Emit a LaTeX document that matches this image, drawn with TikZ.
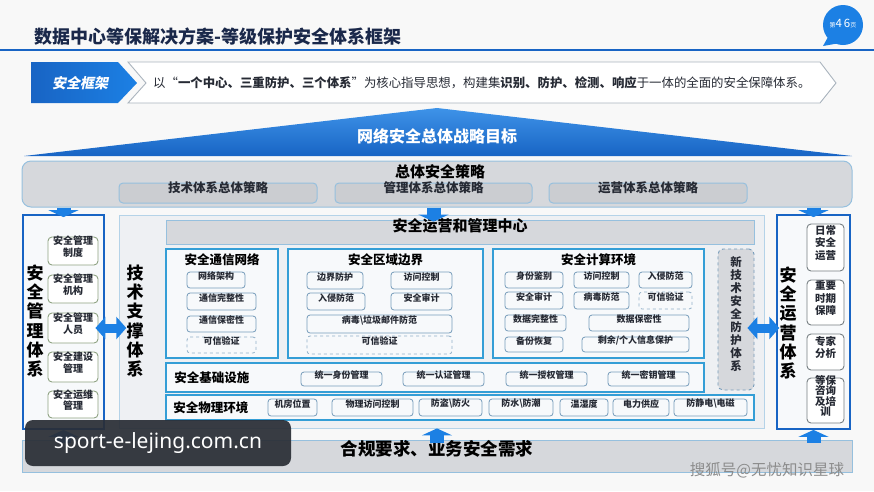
\documentclass[tikz,border=0pt]{standalone}
\usepackage{fontspec}
\setmainfont{Noto Sans CJK SC}
\newfontfamily\tagfont{Noto Sans CJK SC}[FakeSlant=0.2]
\newfontfamily\wmfont{Noto Sans}
\usetikzlibrary{arrows.meta,fit,positioning}

\definecolor{mainblue}{RGB}{28,128,228}
\definecolor{darkblue}{RGB}{24,100,196}
\definecolor{titlenavy}{RGB}{26,40,74}
\definecolor{subline}{RGB}{52,158,214}
\definecolor{itemline}{RGB}{118,156,186}
\definecolor{itemfill}{RGB}{247,249,251}
\definecolor{txtgray}{RGB}{38,42,52}
\definecolor{grayfill}{RGB}{214,216,220}
\definecolor{paleline}{RGB}{150,192,222}
\definecolor{techfill}{RGB}{238,240,243}
\definecolor{lboxline}{RGB}{142,162,130}
\definecolor{rboxline}{RGB}{118,126,130}
\definecolor{bannerline}{RGB}{170,180,190}
\definecolor{bgwhite}{RGB}{248,248,248}
\definecolor{wmgray}{RGB}{42,46,54}

\begin{document}
\begin{tikzpicture}[x=1pt, y=-1pt,
    item/.style={draw=itemline, fill=itemfill, rounded corners=3pt, line width=0.8pt,
        inner sep=0pt, text=txtgray, font=\fontsize{9}{10}\selectfont\bfseries},
    itemdash/.style={item, dashed, draw=itemline!80},
    subbox/.style={draw=subline, line width=1.6pt, fill=itemfill, inner sep=0pt},
    subtitle/.style={inner sep=0pt, text=black, font=\fontsize{12.5}{14}\selectfont\bfseries},
    graybar/.style={draw=paleline, fill=grayfill, line width=0.8pt, inner sep=0pt,
        text=black, font=\fontsize{15}{17}\selectfont\bfseries},
    stratbox/.style={draw=paleline, fill=grayfill!95!black, rounded corners=4pt, line width=1pt,
        inner sep=0pt, text=txtgray, font=\fontsize{12.5}{14}\selectfont\bfseries},
    colbox/.style={draw=darkblue, line width=1.8pt, fill=itemfill, inner sep=0pt},
    collabel/.style={inner sep=0pt, align=center, text=black,
        font=\fontsize{17}{19.2}\selectfont\bfseries},
    lbox/.style={draw=lboxline, fill=white, rounded corners=4pt, line width=0.9pt, inner sep=0pt,
        align=center, text=txtgray, font=\fontsize{10}{11.5}\selectfont\bfseries},
    rbox/.style={lbox, draw=rboxline, font=\fontsize{10.5}{12.5}\selectfont\bfseries},
    downarr/.style={draw=mainblue, line width=14pt, -{Triangle[width=30pt,length=7pt]}},
    dblarr/.style={draw=mainblue, line width=9pt,
        {Triangle[width=22pt,length=10pt]}-{Triangle[width=22pt,length=10pt]}}]

    % Page area and background
    \useasboundingbox (0,0) rectangle (874,491);
    \fill[bgwhite] (0,0) rectangle (874,491);

    % Header: title, rule and page badge
    \node[anchor=west, inner sep=0pt, text=titlenavy, font=\fontsize{18}{20}\selectfont\bfseries]
        (title) at (34,37) {数据中心等保解决方案-等级保护安全体系框架};
    \draw[darkblue, line width=2.4pt] (0,50) -- (874,50);
    \fill[mainblue] (843,25) circle (20);
    \fill[mainblue] (828,37) -- (823,46) -- (840,43) -- cycle;
    \node[text=white, inner sep=0pt] (page) at (843,24)
        {\fontsize{6}{6}\selectfont 第\fontsize{11.5}{12}\selectfont 4\,6\fontsize{6}{6}\selectfont 页};

    % Banner
    \shade[left color=darkblue, right color=mainblue] (31,62) -- (118,62) -- (137,83) -- (118,103) -- (31,103) -- cycle;
    \node[text=white, inner sep=0pt, font=\fontsize{14}{16}\selectfont\tagfont\bfseries] (tag) at (80,83) {安全框架};
    \draw[bannerline, line width=0.9pt, fill=white] (128,62) -- (820,62) -- (836,83) -- (820,103) -- (128,103) -- (146,83) -- cycle;
    \node[anchor=west, inner sep=0pt, text=txtgray, font=\fontsize{12.4}{14}\selectfont] (motto) at (153,83)
        {以“\textbf{一个中心、三重防护、三个体系}”为核心指导思想，构建集\textbf{识别、防护、检测、响应}于一体的全面的安全保障体系。};

    % Strategic goal triangle
    \shade[top color=mainblue!85, bottom color=darkblue] (437,108) -- (852,156) -- (24,156) -- cycle;
    \node[text=white, inner sep=0pt, font=\fontsize{16}{18}\selectfont\bfseries] (goal) at (437,136) {网络安全总体战略目标};

    % Overall strategy
    \node[draw=paleline, fill=grayfill, rounded corners=9pt, line width=1pt, inner sep=0pt,
        fit={(22,161) (852,207)}] (strat) {};
    \node[inner sep=0pt, font=\fontsize{15}{17}\selectfont\bfseries] (stratt) at (440,172) {总体安全策略};
    \foreach \nm/\xa/\xb/\txt in {jscl/119/317/技术体系总体策略, glcl/335/532/管理体系总体策略, yycl/549/747/运营体系总体策略}
        \node[stratbox, fit={(\xa,183) (\xb,203)}] (\nm) {\txt};

    % Technical support system
    \node[draw=paleline!70, fill=techfill, line width=0.8pt, inner sep=0pt, fit={(119,215) (764,428)}] (tech) {};
    \node[collabel] (techl) at (135,321) {技\\术\\支\\撑\\体\\系};
    \node[graybar, fit={(166,220) (754,244)}] (glzx) {安全运营和管理中心};

    % Three protection areas
    \node[subbox, fit={(166,249) (278,358)}] (txwl) {};
    \node[subbox, fit={(288,249) (483,358)}] (qybj) {};
    \node[subbox, fit={(493,249) (704,358)}] (jshj) {};
    \node[subtitle, below=5pt of txwl.north] (txwlt) {安全通信网络};
    \node[subtitle, below=5pt of qybj.north] (qybjt) {安全区域边界};
    \node[subtitle, below=5pt of jshj.north] (jshjt) {安全计算环境};

    \foreach \nm/\xa/\ya/\xb/\yb/\txt in {
        wljg/187/272/245/288/网络架构, txwz/187/293/256/310/通信完整性, txbm/187/316/256/332/通信保密性,
        bjfh/307/272/363/289/边界防护, fwkza/391/272/452/289/访问控制, rqffa/307/293/365/310/入侵防范,
        aqsja/391/293/452/310/安全审计, bdlj/307/315/452/333/病毒\textbackslash 垃圾邮件防范,
        sfjb/505/272/563/288/身份鉴别, fwkzb/574/272/629/288/访问控制, rqffb/639/272/692/288/入侵防范,
        aqsjb/505/292/563/309/安全审计, bdff/574/292/629/309/病毒防范,
        sjwz/505/315/566/331/数据完整性, sjbm/589/315/689/331/数据保密性,
        bfhf/505/337/563/352/备份恢复, syxx/582/337/689/352/{剩余/个人信息保护}}
        \node[item, fit={(\xa,\ya) (\xb,\yb)}] (\nm) {\txt};
    \foreach \nm/\xa/\ya/\xb/\yb in {kxa/187/337/256/353, kxb/307/336/452/354, kxc/639/292/692/309}
        \node[itemdash, fit={(\xa,\ya) (\xb,\yb)}] (\nm) {可信验证};

    % New technology protection
    \node[draw=itemline, dashed, fill=grayfill, rounded corners=5pt, line width=0.9pt, inner sep=0pt,
        align=center, text=txtgray, font=\fontsize{11.5}{13}\selectfont\bfseries,
        fit={(718,249) (754,390)}] (xjs) {新\\技\\术\\安\\全\\防\\护\\体\\系};

    % Infrastructure and physical environment
    \node[subbox, fit={(166,363) (704,392)}] (jcss) {};
    \node[subtitle, anchor=west, right=9pt of jcss.west] (jcsst) {安全基础设施};
    \foreach \nm/\xa/\xb/\txt in {tysf/301/382/统一身份管理, tyrz/403/484/统一认证管理,
        tysq/506/587/统一授权管理, tymy/608/689/统一密钥管理}
        \node[item, fit={(\xa,372) (\xb,386)}] (\nm) {\txt};
    \node[subbox, fit={(166,395) (754,420)}] (wlhj) {};
    \node[subtitle, anchor=west, right=8pt of wlhj.west] (wlhjt) {安全物理环境};
    \foreach \nm/\xa/\xb/\txt in {jfwz/268/317/机房位置, wlfw/332/413/物理访问控制,
        fdfh/419/482/防盗\textbackslash 防火, fsfc/489/553/防水\textbackslash 防潮, wsd/560/608/温湿度,
        dlgy/613/669/电力供应, fjdc/674/747/防静电\textbackslash 电磁}
        \node[item, fit={(\xa,399) (\xb,416)}] (\nm) {\txt};

    % Management system (left)
    \node[colbox, fit={(23,215) (104,429)}] (lcol) {};
    \node[collabel] (lcoll) at (35,321) {安\\全\\管\\理\\体\\系};
    \foreach \nm/\ya/\yb/\txt in {zd/237/265/{安全管理\\制度}, jg/275/303/{安全管理\\机构},
        ry/313/343/{安全管理\\人员}, jsgl/352/382/{安全建设\\管理}, ywgl/391/418/{安全运维\\管理}}
        \node[lbox, fit={(48,\ya) (98,\yb)}] (\nm) {\txt};

    % Operation system (right)
    \node[colbox, fit={(777,215) (850,429)}] (rcol) {};
    \node[collabel] (rcoll) at (788,323) {安\\全\\运\\营\\体\\系};
    \foreach \nm/\ya/\yb/\txt in {rcyy/224/271/{日常\\安全\\运营}, zysq/280/325/{重要\\时期\\保障},
        zjfx/334/370/{专家\\分析}}
        \node[rbox, fit={(807,\ya) (844,\yb)}] (\nm) {\txt};
    \node[rbox, font=\fontsize{10.5}{10.6}\selectfont\bfseries, fit={(807,378) (844,423)}] (dbzx) {等保\\咨询\\及培\\训};

    % Compliance requirements
    \node[draw=paleline, fill=grayfill, line width=1pt, inner sep=0pt, font=\fontsize{17.5}{19}\selectfont\bfseries,
        fit={(22,440) (852,472)}] (hg) {合规要求、业务安全需求};

    % Arrows
    \draw[downarr] (strat.south -| lcol.north) -- ([yshift=-3pt]lcol.north);
    \draw[downarr] (strat.south -| glcl.south) -- ([yshift=-2pt]glzx.north -| glcl.south);
    \draw[downarr] (strat.south -| rcol.north) -- ([yshift=-3pt]rcol.north);
    \draw[downarr] ([yshift=-3pt]hg.north -| lcol.south) -- (lcol.south);
    \draw[downarr] ([yshift=-3pt]hg.north) -- (hg.north |- tech.south);
    \draw[downarr] ([yshift=-3pt]hg.north -| rcol.south) -- (rcol.south);
    \draw[dblarr] ([xshift=-3pt]ry.east) -- (ry.east -| techl.west);
    \draw[dblarr] ([xshift=-7pt]xjs.east |- ry.east) -- (ry.east -| rcoll.west);

    % Watermarks
    \node[fill=wmgray, fill opacity=0.93, text opacity=1, rounded corners=8pt, text=white,
        minimum width=266pt, minimum height=46pt, font=\fontsize{21}{24}\selectfont\wmfont] (wm) at (158,443) {sport-e-lejing.com.cn};
    \node[text=black!45, inner sep=0pt, font=\fontsize{15.5}{17}\selectfont] (sohu) at (767,470) {搜狐号@无忧知识星球};
\end{tikzpicture}
\end{document}
